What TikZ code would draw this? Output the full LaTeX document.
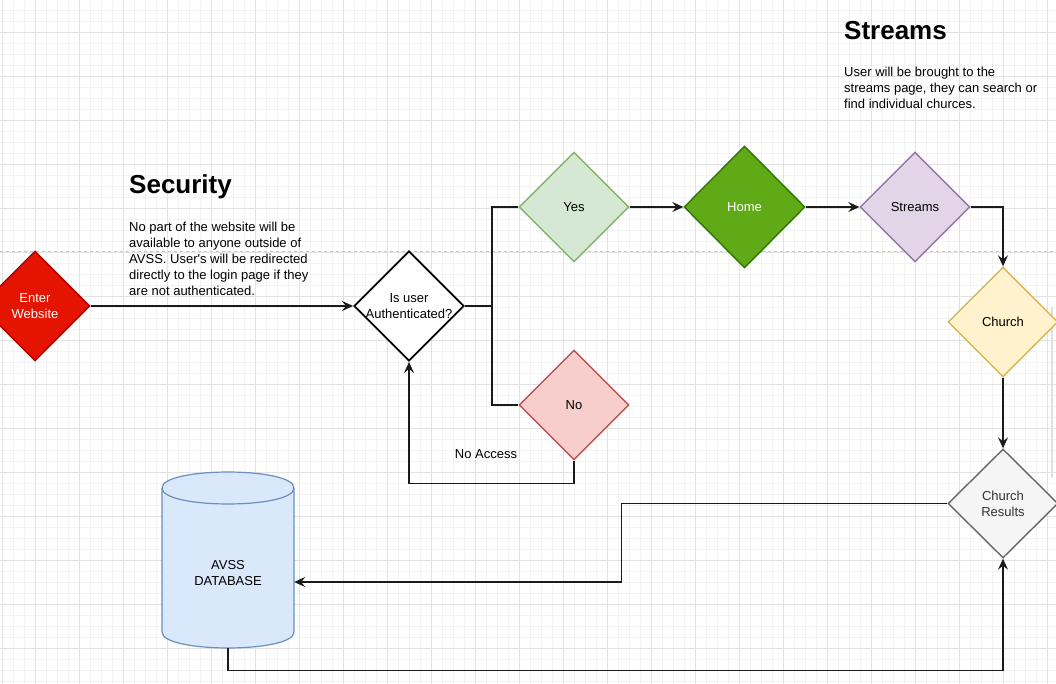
\documentclass[tikz,border=0pt]{standalone}
\usepackage{fontspec}
\setmainfont{Liberation Sans}
\usetikzlibrary{shapes.geometric,arrows.meta,calc}
\definecolor{gminor}{HTML}{F3F3F3}
\definecolor{gmajor}{HTML}{E2E2E2}
\definecolor{enterF}{HTML}{E51400}\definecolor{enterD}{HTML}{B20000}
\definecolor{yesF}{HTML}{D5E8D4}\definecolor{yesD}{HTML}{82B366}
\definecolor{noF}{HTML}{F8CECC}\definecolor{noD}{HTML}{B85450}
\definecolor{homeF}{HTML}{60A917}\definecolor{homeD}{HTML}{2D7600}
\definecolor{strF}{HTML}{E1D5E7}\definecolor{strD}{HTML}{9673A6}
\definecolor{chF}{HTML}{FFF2CC}\definecolor{chD}{HTML}{D6B656}
\definecolor{resF}{HTML}{F5F5F5}\definecolor{resD}{HTML}{666666}
\definecolor{dbF}{HTML}{DAE8FC}\definecolor{dbD}{HTML}{6C8EBF}
\definecolor{lineC}{HTML}{1A1A1A}
\definecolor{txtC}{HTML}{333333}
\begin{document}
\begin{tikzpicture}[x=1pt,y=-1pt,
  dia/.style={diamond, minimum width=110pt, minimum height=110pt, inner sep=0pt, line width=1.4pt},
  lbl/.style={font=\fontsize{13}{16}\selectfont, align=center, inner sep=0pt},
  body/.style={font=\fontsize{13}{16}\selectfont, inner sep=0pt, anchor=base west, align=left},
  head/.style={font=\fontsize{26}{30}\selectfont\bfseries, inner sep=0pt, anchor=base west},
  arr/.style={draw=lineC, line width=1.2pt, -{Stealth[length=11pt,width=10pt,inset=4pt]}},
  conn/.style={draw=lineC, line width=1.2pt},
  branch/.style={draw=lineC, line width=1.9pt}
]
\useasboundingbox (0,0) rectangle (1056,684);
\clip (0,0) rectangle (1056,684);
\fill[white] (0,0) rectangle (1056,684);
% grid
\foreach \x in {2,13,...,1056} \draw[gminor, line width=0.8pt] (\x,0) -- (\x,684);
\foreach \y in {10,21,...,684} \draw[gminor, line width=0.8pt] (0,\y) -- (1056,\y);
\foreach \x in {35,79,...,1056} \draw[gmajor, line width=0.9pt] (\x,0) -- (\x,684);
\foreach \y in {32,76,...,684} \draw[gmajor, line width=0.9pt] (0,\y) -- (1056,\y);
\draw[gmajor, line width=1pt] (2,0) -- (2,684);
% page break line
\draw[black!22, line width=1pt, dash pattern=on 3pt off 3pt] (0,252) -- (1056,252);
% scrollbar
\draw[black!12, line width=2pt, line cap=round] (1052,308) -- (1052,477);

% texts (multi-line nodes: base anchor is the last line's baseline)
\node[head] (sechead) at (129,193.5) {Security};
\node[body] (sectext) at (129,295.5) {No part of the website will be\\available to anyone outside of\\AVSS. User\textquotesingle s will be redirected\\directly to the login page if they\\are not authenticated.};
\node[head] (strhead) at (844,40) {Streams};
\node[body] (strtext) at (844,109) {User will be brought to the\\streams page, they can search or\\find individual churces.};

% diamonds
\node[dia, fill=enterF, draw=enterD, label={[lbl, text=white]center:{Enter\\Website}}] (enter) at (35,306) {};
\node[dia, fill=white, draw=black, line width=1.9pt, label={[lbl]center:{Is user\\Authenticated?}}] (auth) at (409,306) {};
\node[dia, fill=yesF, draw=yesD, label={[lbl]center:Yes}] (yes) at (574,207) {};
\node[dia, fill=noF, draw=noD, label={[lbl]center:No}] (no) at (574,405) {};
\node[dia, fill=homeF, draw=homeD, minimum width=121pt, minimum height=122pt, label={[lbl, text=white]center:Home}] (home) at (744.5,207) {};
\node[dia, fill=strF, draw=strD, label={[lbl]center:Streams}] (str) at (915,207) {};
\node[dia, fill=chF, draw=chD, label={[lbl]center:Church}] (church) at (1003,322) {};
\node[dia, fill=resF, draw=resD, minimum height=109pt, label={[lbl, text=txtC]center:{Church\\Results}}] (res) at (1003,503.5) {};

% database cylinder
\node[minimum width=132pt, minimum height=176pt, inner sep=0pt] (db) at (228,560) {};
\fill[dbF] (162,488) .. controls (162,466.7) and (294,466.7) .. (294,488) -- (294,632) .. controls (294,653.3) and (162,653.3) .. (162,632) -- cycle;
\draw[dbD, line width=1.2pt] (162,488) .. controls (162,466.7) and (294,466.7) .. (294,488) -- (294,632) .. controls (294,653.3) and (162,653.3) .. (162,632) -- cycle;
\draw[dbD, line width=1.2pt] (162,488) .. controls (162,509.3) and (294,509.3) .. (294,488);
\node[lbl] (dbtext) at (228,573) {AVSS\\DATABASE};

% connectors
\draw[arr] (enter.east) -- (auth.west);
\draw[branch] (auth.east) -- ++(27,0) coordinate (br);
\draw[branch] (br) |- (yes.west);
\draw[branch] (br) |- (no.west);
\draw[arr] (no.south) -- ++(0,23) -| (auth.south);
\node[lbl] (noacc) at (486,454) {No Access};
\draw[arr] (yes.east) -- (home.west);
\draw[arr] (home.east) -- (str.west);
\draw[arr] (str.east) -| (church.north);
\draw[arr] (church.south) -- (res.north);
\draw[arr] (res.west) -- ++(-326,0) |- ([yshift=-22pt]db.east);
\draw[arr] (db.south) -- ++(0,22) -| (res.south);
\end{tikzpicture}
\end{document}
